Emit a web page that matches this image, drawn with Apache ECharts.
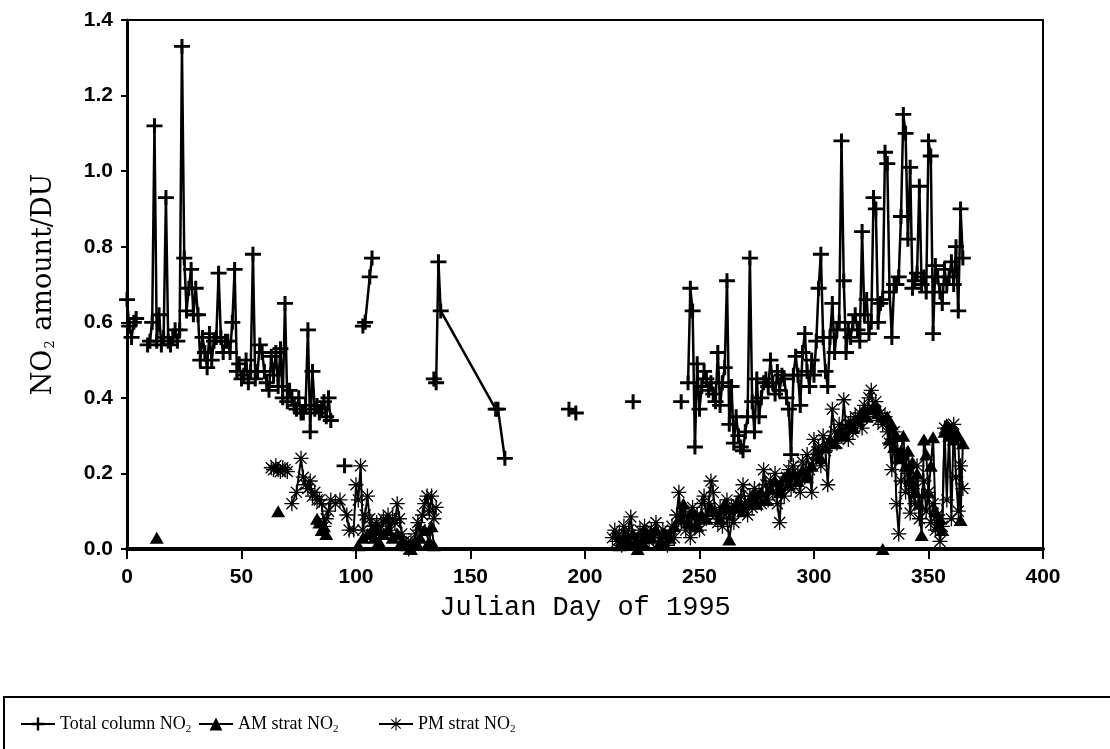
<!DOCTYPE html>
<html><head><meta charset="utf-8">
<script src="https://cdn.jsdelivr.net/npm/echarts@6/dist/echarts.min.js"></script>
<style>html,body{margin:0;padding:0;background:#fff;}#c{width:1110px;height:749px;}</style>
</head><body><div id="c"></div>
<script>
// ---------- tick labels ----------
const xTickLabels = ['0','50','100','150','200','250','300','350','400'];
const yTickLabels = ['0.0','0.2','0.4','0.6','0.8','1.0','1.2','1.4'];

// ---------- Total column NO2 (null = gap in the line) ----------
const totalDays = [
  0,1,2,3,4, 6,
  9,10,11,12,13,14,15,16,17,18,19,20,21,22,23,24,25,26,27,28,29,30,31,32,33,34,35,36,37,38,39,40,
  41,42,43,44,45,46,47,48,49,50,51,52,53,54,55,56,57,58,59,60,61,62,63,64,65,66,67,68,69,70,
  71,72,73,74,75,76,77,78,79,80,81,82,83,84,85,86,87,88,89, 92,
  95, 99,
  103,104,106,107, 120,
  134,135,136,137,161,162,165, 180,
  193,196, 210,
  221, 232,
  242, 244
];
const totalVals = [
  0.66,0.59,0.56,0.60,0.61, null,
  0.54,0.55,0.60,1.12,0.55,0.62,0.54,0.56,0.93,0.55,0.54,0.56,0.58,0.55,0.58,1.33,0.77,0.63,0.69,0.74,0.62,0.69,0.62,0.50,0.56,0.52,0.48,0.57,0.50,0.55,0.56,0.73,
  0.56,0.52,0.55,0.55,0.52,0.60,0.74,0.47,0.49,0.45,0.46,0.50,0.44,0.47,0.78,0.45,0.47,0.54,0.52,0.47,0.44,0.42,0.51,0.46,0.52,0.43,0.53,0.40,0.65,0.39,
  0.42,0.40,0.38,0.37,0.40,0.36,0.36,0.38,0.58,0.31,0.47,0.37,0.38,0.36,0.37,0.39,0.35,0.40,0.34, null,
  0.22, null,
  0.59,0.60,0.72,0.77, null,
  0.45,0.44,0.76,0.63,0.37,0.37,0.24, null,
  0.37,0.36, null,
  0.39, null,
  0.39, null
];
const totalLateDays = [
  245,246,247,248,249,250,251,252,253,254,255,256,257,258,259,260,261,262,263,264,265,266,267,268,269,270,
  271,272,273,274,275,276,277,278,279,280,281,282,283,284,285,286,287,288,289,290,291,292,293,294,295,296,
  297,298,299,300,301,302,303,304,305,306,307,308,309,310,311,312,313,314,315,316,317,318,319,320,321,322,
  323,324,325,326,327,328,329,330,331,332,333,334,335,336,337,338,339,340,341,342,343,344,345,346,347,348,
  349,350,351,352,353,354,355,356,357,358,359,360,361,362,363,364,365
];
const totalLateVals = [
  0.44,0.69,0.63,0.27,0.49,0.37,0.43,0.47,0.45,0.42,0.44,0.41,0.39,0.52,0.38,0.44,0.48,0.71,0.33,0.43,0.28,0.35,0.30,0.27,0.26,0.31,
  0.35,0.77,0.39,0.31,0.45,0.35,0.40,0.44,0.45,0.43,0.50,0.44,0.41,0.47,0.42,0.46,0.45,0.40,0.37,0.25,0.46,0.51,0.46,0.38,0.52,0.57,
  0.47,0.43,0.50,0.46,0.55,0.69,0.78,0.56,0.47,0.43,0.56,0.65,0.52,0.58,0.60,1.08,0.71,0.52,0.58,0.56,0.60,0.62,0.58,0.55,0.84,0.62,
  0.66,0.57,0.60,0.93,0.90,0.60,0.65,0.66,1.05,1.02,0.68,0.56,0.70,0.70,0.72,0.88,1.15,1.10,0.82,1.01,0.69,0.71,0.73,0.96,0.70,0.72,
  0.68,1.08,1.04,0.57,0.75,0.72,0.68,0.65,0.74,0.70,0.72,0.76,0.70,0.80,0.63,0.90,0.77
];

// ---------- AM strat NO2 ----------
const amDays = [
  13, 20, 66, 70,
  83,84,85,86,87, 94,
  101,103,105,107,108,110,112,114,116,118,120,122,124,126,128,130,132,133,134, 170,
  215,217,219,221,223,225,227,229,231,233,235,237,239,241,243,245,247,249,251,253,255,257,259,261,263,265,
  267,269,271,273,275,277,279,281,283,285,287,289,291,293,295,297,299,301,303,305,307,309,311,313,315,317,
  319,321,323,325,327,328, 329, 330, 331,
  332,333,334,335,336,337,338,339,340,341,342,343,344,345,346,347,348,349,350,351,352,353,354,355,356,357,
  358,359,360,361,362,363,364,365
];
const amVals = [
  0.03, null, 0.10, null,
  0.08,0.07,0.05,0.06,0.04, null,
  0.01,0.03,0.04,0.05,0.03,0.02,0.04,0.05,0.03,0.04,0.02,0.01,0.00,0.02,0.03,0.05,0.02,0.06,0.01, null,
  0.01,0.03,0.02,0.04,0.00,0.02,0.04,0.03,0.05,0.02,0.04,0.03,0.06,0.08,0.12,0.07,0.10,0.06,0.09,0.08,0.11,0.10,0.08,0.12,0.025,0.11,
  0.13,0.10,0.12,0.14,0.12,0.15,0.13,0.16,0.18,0.15,0.19,0.17,0.20,0.18,0.21,0.19,0.22,0.25,0.24,0.27,0.29,0.28,0.31,0.30,0.33,0.32,
  0.34,0.36,0.35,0.37,0.38,0.36, null, 0.00, null,
  0.35,0.29,0.33,0.27,0.30,0.24,0.26,0.30,0.22,0.26,0.18,0.23,0.15,0.20,0.12,0.037,0.29,0.25,0.15,0.22,0.296,0.10,0.06,0.08,0.05,0.31,
  0.33,0.30,0.32,0.29,0.31,0.30,0.077,0.28
];

// ---------- PM strat NO2 ----------
const pmDays = [
  63,64,65,66,67,68,69,70, 71,
  72,74,76,77,78,79,80,81,82,83,84,85,86,87,88,89,91,93,
  96,97,99,100,101,102,103,104,105,106,107,108,109,110,111,112,113,114,115,116,117,118,119,120,121,122,
  123,124,125,126,127,128,129,130,131,132,133,134,135, 170
];
const pmVals = [
  0.215,0.21,0.22,0.21,0.205,0.215,0.21,0.205, null,
  0.12,0.15,0.24,0.19,0.17,0.16,0.18,0.14,0.15,0.13,0.13,0.12,0.06,0.08,0.10,0.13,0.12,0.13,
  0.09,0.05,0.05,0.17,0.13,0.22,0.05,0.09,0.14,0.08,0.06,0.05,0.07,0.04,0.06,0.08,0.07,0.09,0.05,0.08,0.07,0.12,0.08,0.04,0.02,0.01,
  0.00,0.02,0.01,0.04,0.07,0.05,0.09,0.12,0.14,0.10,0.14,0.08,0.11, null
];
const pmLateDays = [
  212,213,214,215,216,217,218,219,220,221,222,223,224,225,226,227,228,229,230,231,232,233,234,235,236,237,
  238,239,240,241,242,243,244,245,246,247,248,249,250,251,252,253,254,255,256,257,258,259,260,261,262,263,
  264,265,266,267,268,269,270,271,272,273,274,275,276,277,278,279,280,281,282,283,284,285,286,287,288,289,
  290,291,292,293,294,295,296,297,298,299,300,301,302,303,304,305,306,307,308,309,310,311,312,313,314,315,
  316,317,318,319,320,321,322,323,324,325,326,327,328,329,330,331,332,333,334,335,336,337,338,339,340,341,
  342,343,344,345,346,347,348,349,350,351,352,353,354,355,356,357,358,359,360,361,362,363,364,365
];
const pmLateVals = [
  0.03,0.05,0.02,0.04,0.01,0.06,0.03,0.05,0.085,0.03,0.01,0.02,0.05,0.03,0.06,0.04,0.02,0.05,0.03,0.07,0.04,0.02,0.05,0.03,0.01,0.04,
  0.06,0.03,0.09,0.15,0.07,0.10,0.05,0.08,0.03,0.11,0.06,0.09,0.05,0.12,0.14,0.08,0.12,0.18,0.15,0.09,0.07,0.11,0.06,0.10,0.13,0.08,
  0.11,0.07,0.12,0.10,0.14,0.17,0.12,0.09,0.14,0.11,0.16,0.13,0.15,0.12,0.21,0.17,0.13,0.18,0.15,0.20,0.12,0.07,0.17,0.14,0.19,0.21,
  0.16,0.22,0.18,0.20,0.15,0.23,0.19,0.25,0.21,0.15,0.29,0.24,0.27,0.22,0.30,0.26,0.17,0.28,0.37,0.31,0.28,0.33,0.30,0.395,0.32,0.29,
  0.34,0.31,0.35,0.33,0.36,0.32,0.38,0.35,0.40,0.42,0.37,0.39,0.34,0.36,0.33,0.35,0.31,0.28,0.21,0.31,0.12,0.04,0.18,0.25,0.15,0.20,
  0.095,0.16,0.12,0.22,0.08,0.14,0.18,0.10,0.15,0.07,0.12,0.05,0.09,0.02,0.06,0.32,0.13,0.31,0.08,0.33,0.19,0.10,0.22,0.16
];

// ---------- build ----------
function pairs(days, vals) {
  return days.map((d, i) => [d, vals[i] == null ? '-' : vals[i]]);
}
const PLUS = 'path://M0,6.5H16V9.5H0Z M6.5,0H9.5V16H6.5Z';
const STAR = 'path://M0,7.3H16V8.7H0Z M7.3,0H8.7V16H7.3Z M1.6,2.6L2.6,1.6L14.4,13.4L13.4,14.4Z M13.4,1.6L14.4,2.6L2.6,14.4L1.6,13.4Z';

const serif = 'Liberation Serif';
const richLegend = {
  t: { fontFamily: serif, fontSize: 18, color: '#000' },
  s: { fontFamily: serif, fontSize: 11, color: '#000', padding: [10, 0, 0, 0] }
};
function subFmt(name) {
  const base = name.replace('NO₂', 'NO');
  return '{t|' + base + '}{s|2}';
}
function lineSeries(name, data, symbol, size, lw) {
  return {
    type: 'line', name: name, data: data, symbol: symbol, symbolSize: size,
    showSymbol: true, showAllSymbol: true, connectNulls: false,
    lineStyle: { color: '#000', width: lw },
    itemStyle: { color: '#000', borderWidth: 0 },
    emphasis: { disabled: true }, animation: false, silent: true, z: 3
  };
}

const chart = echarts.init(document.getElementById('c'), null, { renderer: 'canvas' });
const NAME_T = 'Total column NO₂', NAME_A = 'AM strat NO₂', NAME_P = 'PM strat NO₂';
const legendCommon = { itemWidth: 34, itemHeight: 16, itemGap: 5, formatter: subFmt, textStyle: { rich: richLegend }, selectedMode: false, top: 710 };
chart.setOption({
  backgroundColor: '#fff',
  animation: false,
  grid: { left: 127, right: 67, top: 20, bottom: 200, show: true, borderColor: '#000', borderWidth: 2, backgroundColor: 'transparent' },
  xAxis: {
    type: 'value', min: 0, max: 400, interval: 50,
    name: 'Julian Day of 1995', nameLocation: 'middle', nameGap: 45,
    nameTextStyle: { fontFamily: 'Liberation Mono', fontSize: 27, color: '#000' },
    axisLine: { show: true, onZero: false, lineStyle: { color: '#000', width: 4 } },
    axisTick: { show: true, inside: false, length: 10, lineStyle: { color: '#000', width: 2 } },
    axisLabel: { fontFamily: 'Liberation Sans', fontSize: 21, fontWeight: 'bold', color: '#000', margin: 18,
      formatter: v => xTickLabels[Math.round(v / 50)] },
    splitLine: { show: false }
  },
  yAxis: {
    type: 'value', min: 0, max: 1.4, interval: 0.2,
    name: '{a|NO}{s|2}{a| amount/DU}', nameLocation: 'middle', nameGap: 70, nameRotate: 90,
    nameTextStyle: { rich: {
      a: { fontFamily: 'DejaVu Serif', fontSize: 27, color: '#000' },
      s: { fontFamily: 'DejaVu Serif', fontSize: 13, color: '#000', padding: [14, 1, 0, 1] }
    } },
    axisLine: { show: true, onZero: false, lineStyle: { color: '#000', width: 3 } },
    axisTick: { show: true, inside: false, length: 6, lineStyle: { color: '#000', width: 2 } },
    axisLabel: { fontFamily: 'Liberation Sans', fontSize: 21, fontWeight: 'bold', color: '#000', margin: 14,
      formatter: v => yTickLabels[Math.round(v / 0.2)] },
    splitLine: { show: false }
  },
  legend: [
    Object.assign({ data: [NAME_T], left: 15 }, legendCommon),
    Object.assign({ data: [NAME_A], left: 193 }, legendCommon),
    Object.assign({ data: [NAME_P], left: 373 }, legendCommon)
  ],
  graphic: [
    { type: 'rect', shape: { x: 4, y: 697, width: 1120, height: 70 }, style: { fill: 'none', stroke: '#000', lineWidth: 2 }, silent: true }
  ],
  series: [
    lineSeries(NAME_T, pairs(totalDays, totalVals).concat([[244.5, '-']]).concat(pairs(totalLateDays, totalLateVals)), PLUS, [16, 15], 2.5),
    lineSeries(NAME_A, pairs(amDays, amVals), 'triangle', [14, 12], 2),
    lineSeries(NAME_P, pairs(pmDays, pmVals).concat([[200, '-']]).concat(pairs(pmLateDays, pmLateVals)), STAR, [15, 15], 2)
  ]
});
</script>
</body></html>
